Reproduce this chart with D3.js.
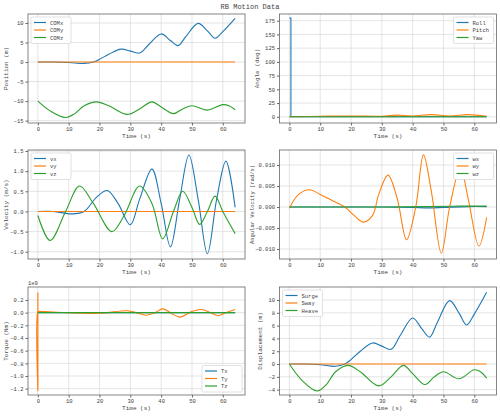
<!DOCTYPE html>
<html><head><meta charset="utf-8">
<script src="https://cdn.jsdelivr.net/npm/d3@7"></script>
<style>body{margin:0;background:#fff}text{font-family:"Liberation Mono",monospace;fill:#444}</style>
</head><body><svg id="c" width="500" height="416"></svg>
<script>
// ---- data ----
const surgeT=[0,5,10,15,18,20,23,27,30,33,36,40,43,45.5,48,52,55,57.5,60,64];
const surge=[0,0,-0.1,-0.35,0,0.7,2.0,3.3,2.8,2.3,4.5,7.2,5.5,4.2,6.5,9.9,8,6.1,7.8,11.2];
const heaveT=[0,4,9,12,15,19,23,29,33,37,40,44,47,50,55,60,62,64];
const heave=[0,-2.5,-4.2,-3.2,-1.2,-0.2,-1.2,-3.4,-2,-0.2,-1.5,-3.2,-2,-1.2,-2.3,-0.9,-1.2,-2.2];
const flatT=[0,64];
const zero=[0,0];
const vxT=[0,5,11,15,19,22.5,26,30,33,37,40,43,46,49,52,55,58,61,64];
const vx=[0,0,-0.06,0,0.35,0.52,0.2,-0.33,0.3,1.05,0.2,-0.88,0.3,1.4,0.3,-1.05,0.3,1.25,0.1];
const vzT=[0,4,9,13.5,18,24,28,33,37,40.5,44,47,50,52.5,55,57.5,60,64];
const vz=[-0.1,-0.72,0,0.63,0.2,-0.5,-0.1,0.63,0.2,-0.68,0,0.5,0.1,-0.32,0,0.38,0,-0.55];
const wyT=[0,3,6.5,10,14,18,21,24,27,29,32,35,38,41,43.5,46,49.3,52,55.5,58,61.5,64];
const wy=[-0.0003,0.003,0.0041,0.003,0.0015,0,-0.002,-0.0036,-0.002,0.003,0.0076,0.002,-0.0078,0,0.0124,0.004,-0.011,0,0.0093,0.002,-0.0093,-0.0025];
const wxT=[0,30,40,45,50,58,64];
const wx=[0,0,-0.0001,-0.0002,-0.0001,0.0001,0.0001];
const wzT=[0,30,45,55,64];
const wz=[0,0,0.0001,0.0002,0.0002];
const rollT=[0,0.5,0.5,64];
const roll=[180,180,0,0];
const pitchT=[0,10,20,30,35,40,46,52,58,64];
const pitch=[0,1,1.5,1,3,1.5,4,1.5,4,1];
const tyT=[0,0,0.01,0.3,5,20,29,32,35,38,40.5,43,46,50,53,56,58.5,61,64];
const ty=[0.32,-1.23,0.02,0.02,0.01,-0.01,0.03,0,-0.04,0,0.06,0,-0.07,0.02,0.05,0,-0.05,0,0.05]; // x1e9
const C=["#1f77b4","#ff7f0e","#2ca02c"];

const svg=d3.select("#c");
svg.append("text").attr("x",250).attr("y",9).attr("text-anchor","middle").attr("font-size",7).text("RB Motion Data");

function panel(o){
  const x=d3.scaleLinear().domain([-3.2,67.2]).range(o.xr);
  const y=d3.scaleLinear().domain(o.yd).range(o.yr);
  const g=svg.append("g");
  const [x0,x1]=o.xr,[y1,y0]=o.yr;
  [0,10,20,30,40,50,60].forEach(t=>g.append("line").attr("x1",x(t)).attr("x2",x(t)).attr("y1",y0).attr("y2",y1).attr("stroke","#ddd").attr("stroke-width",0.8));
  o.yt.forEach(t=>g.append("line").attr("x1",x0).attr("x2",x1).attr("y1",y(t)).attr("y2",y(t)).attr("stroke","#ddd").attr("stroke-width",0.8));
  o.series.forEach((s,i)=>{
    g.append("path").datum(s.t.map((t,j)=>[t,s.v[j]])).attr("fill","none").attr("stroke",C[i]).attr("stroke-width",1.1)
     .attr("d",d3.line().x(d=>x(d[0])).y(d=>y(d[1])).curve(s.linear?d3.curveLinear:d3.curveCatmullRom));
  });
  g.append("rect").attr("x",x0).attr("y",y0).attr("width",x1-x0).attr("height",y1-y0).attr("fill","none").attr("stroke","#666").attr("stroke-width",0.8);
  const xa=g.append("g").attr("transform",`translate(0,${y1})`).call(d3.axisBottom(x).tickValues([0,10,20,30,40,50,60]).tickSize(2.5).tickPadding(2));
  const ya=g.append("g").attr("transform",`translate(${x0},0)`).call(d3.axisLeft(y).tickValues(o.yt).tickFormat(o.fmt).tickSize(2.5).tickPadding(2));
  [xa,ya].forEach(a=>{a.select(".domain").remove();a.selectAll("text").attr("font-size",5.5).attr("fill","#444").style("font-family","Liberation Mono");a.selectAll("line").attr("stroke","#666");});
  g.append("text").attr("x",(x0+x1)/2).attr("y",y1+15).attr("text-anchor","middle").attr("font-size",6).text("Time (s)");
  g.append("text").attr("transform",`translate(${o.ylx},${(y0+y1)/2}) rotate(-90)`).attr("text-anchor","middle").attr("font-size",o.yls||6).text(o.ylab);
  if(o.exp) g.append("text").attr("x",x0).attr("y",y0-2).attr("font-size",5.5).text(o.exp);
  const lw=40,lh=o.series.length*7.5+4;
  const lx=o.leg[0]=="l"?x0+3:x1-3-lw, ly=o.leg[1]=="t"?y0+3:y1-3-lh;
  g.append("rect").attr("x",lx).attr("y",ly).attr("width",lw).attr("height",lh).attr("fill","#fff").attr("stroke","#ccc").attr("stroke-width",0.6).attr("rx",1.5);
  o.series.forEach((s,i)=>{
    const yy=ly+5.5+i*7.5;
    g.append("line").attr("x1",lx+3).attr("x2",lx+15).attr("y1",yy).attr("y2",yy).attr("stroke",C[i]).attr("stroke-width",1.2);
    g.append("text").attr("x",lx+19).attr("y",yy+2).attr("font-size",5.5).text(s.name);
  });
}
const L=[28,245],R=[279.5,496.5];
panel({xr:L,yr:[123,14],yd:[-15.6,12.3],yt:[-15,-10,-5,0,5,10],fmt:d3.format("d"),ylab:"Position (m)",ylx:8,leg:"lt",
 series:[{name:"COMx",t:surgeT,v:surge},{name:"COMy",t:flatT,v:zero},{name:"COMz",t:heaveT,v:heave.map(d=>d-10)}]});
panel({xr:R,yr:[123,14],yd:[-11.3,187.2],yt:[0,25,50,75,100,125,150,175],fmt:d3.format("d"),ylab:"Angle (deg)",ylx:259,leg:"rt",
 series:[{name:"Roll",t:rollT,v:roll,linear:true},{name:"Pitch",t:pitchT,v:pitch},{name:"Yaw",t:flatT,v:zero}]});
panel({xr:L,yr:[259,150],yd:[-1.18,1.525],yt:[-1,-0.5,0,0.5,1,1.5],fmt:d3.format(".1f"),ylab:"Velocity (m/s)",ylx:8,leg:"lt",
 series:[{name:"vx",t:vxT,v:vx},{name:"vy",t:flatT,v:zero},{name:"vz",t:vzT,v:vz}]});
panel({xr:R,yr:[259,150],yd:[-0.01238,0.01357],yt:[-0.01,-0.005,0,0.005,0.01],fmt:d3.format(".3f"),ylab:"Angular Velocity (rad/s)",ylx:254,yls:5.5,leg:"rt",
 series:[{name:"wx",t:wxT,v:wx},{name:"wy",t:wyT,v:wy},{name:"wz",t:wzT,v:wz}]});
panel({xr:L,yr:[395,287],yd:[-1.30,0.405],yt:[-1.2,-1,-0.8,-0.6,-0.4,-0.2,0,0.2],fmt:d3.format(".1f"),ylab:"Torque (Nm)",ylx:8,leg:"rb",exp:"1e9",
 series:[{name:"Tx",t:flatT,v:zero},{name:"Ty",t:tyT,v:ty},{name:"Tz",t:flatT,v:zero}]});
panel({xr:R,yr:[395,287],yd:[-4.83,12.03],yt:[-4,-2,0,2,4,6,8,10],fmt:d3.format("d"),ylab:"Displacement (m)",ylx:262,leg:"lt",
 series:[{name:"Surge",t:surgeT,v:surge},{name:"Sway",t:flatT,v:zero},{name:"Heave",t:heaveT,v:heave}]});
</script></body></html>
